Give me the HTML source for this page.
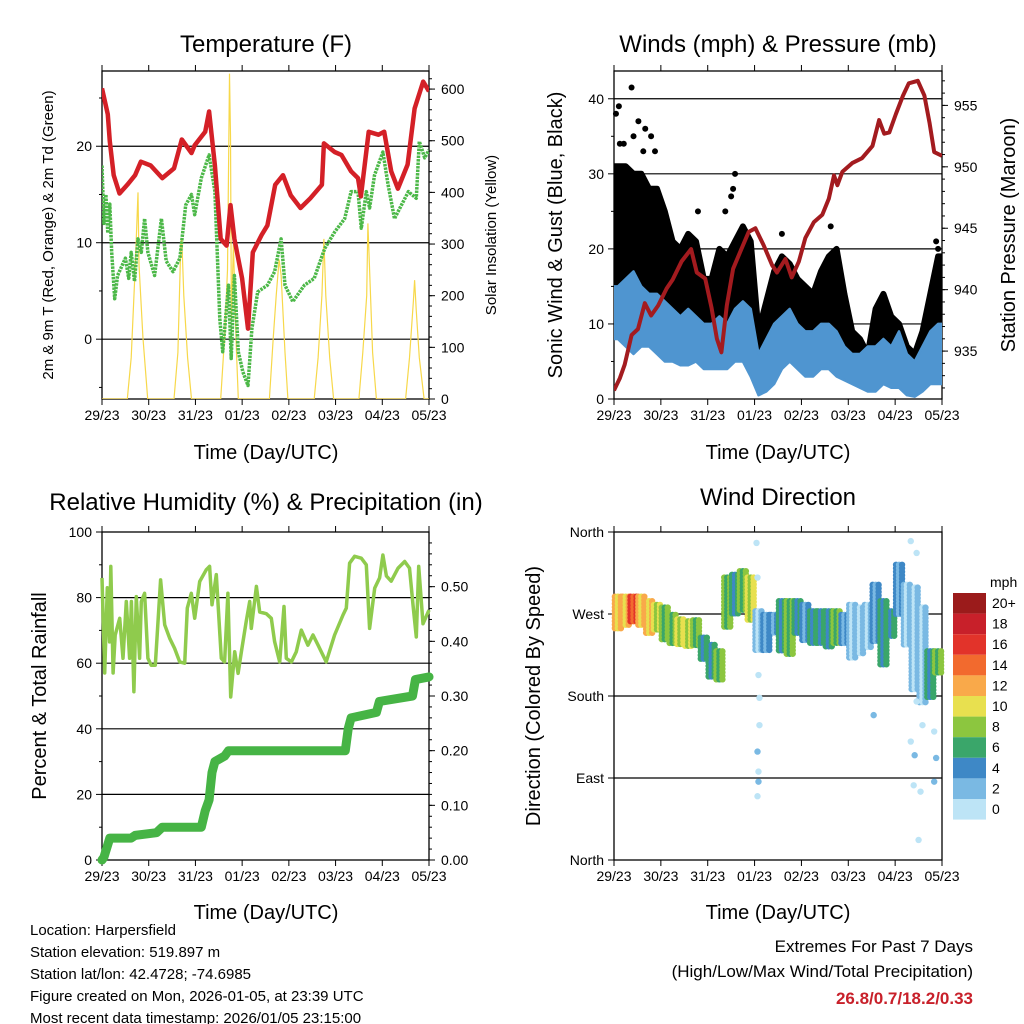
<!DOCTYPE html>
<html><head><meta charset="utf-8"><style>
html,body{margin:0;padding:0;background:#fff;}
svg{display:block;font-family:"Liberation Sans",sans-serif;}
</style></head><body>
<svg id="chart" width="1024" height="1024" viewBox="0 0 1024 1024" xmlns="http://www.w3.org/2000/svg">
<rect width="1024" height="1024" fill="#fff"/>
<g font-size="24" text-anchor="middle" fill="#000">
<text x="266" y="52">Temperature (F)</text>
<text x="778" y="52">Winds (mph) &amp; Pressure (mb)</text>
<text x="266" y="510">Relative Humidity (%) &amp; Precipitation (in)</text>
<text x="778" y="505">Wind Direction</text>
</g>
<g font-size="20" text-anchor="middle">
<text x="266" y="459">Time (Day/UTC)</text>
<text x="778" y="459">Time (Day/UTC)</text>
<text x="266" y="919">Time (Day/UTC)</text>
<text x="778" y="919">Time (Day/UTC)</text>
<text font-size="15" transform="translate(53,235) rotate(-90)">2m &amp; 9m T (Red, Orange) &amp; 2m Td (Green)</text>
<text font-size="15" transform="translate(496,235) rotate(-90)">Solar Insolation (Yellow)</text>
<text transform="translate(562,235) rotate(-90)">Sonic Wind &amp; Gust (Blue, Black)</text>
<text transform="translate(1015,235) rotate(-90)">Station Pressure (Maroon)</text>
<text transform="translate(46,696) rotate(-90)">Percent &amp; Total Rainfall</text>
<text transform="translate(540,696) rotate(-90)">Direction (Colored By Speed)</text>
</g>
<g font-size="15">
<text x="30" y="935">Location: Harpersfield</text>
<text x="30" y="957">Station elevation: 519.897 m</text>
<text x="30" y="979">Station lat/lon: 42.4728; -74.6985</text>
<text x="30" y="1001">Figure created on Mon, 2026-01-05, at 23:39 UTC</text>
<text x="30" y="1023">Most recent data timestamp: 2026/01/05 23:15:00</text>
</g>
<g font-size="17" text-anchor="end">
<text x="973" y="952">Extremes For Past 7 Days</text>
<text x="973" y="977">(High/Low/Max Wind/Total Precipitation)</text>
<text x="973" y="1004" font-weight="bold" fill="#c8202a">26.8/0.7/18.2/0.33</text>
</g>
</svg>
<script>
// ---- shared categories ----
const dayLabels = ["29/23","30/23","31/23","01/23","02/23","03/23","04/23","05/23"];
// ---- temperature ----
const tTimes = [0,3,4,6,9,13,17,20,25,31,37,41,46,47.6,53,55,58,61,64,66,68,72,75,77.5,82,85,89,93,97,102,107,113,114,119.5,123,128,131.5,133,137,142,145,148.6,152,157,160.6,165,168];
const tVals  = [26,23.3,20.5,17,15.1,16,17,18.4,18,16.7,17.7,20.7,19.3,20.1,21.5,23.6,18,10.4,9.7,13.9,10.4,6.3,1.1,9,10.8,11.8,16,17,14.9,13.6,14.6,16,20.3,19.4,19.1,17.4,16.7,14.8,21.5,21.2,21.5,17.4,15.6,18.1,23.9,26.7,25.7];
const tdTimes = [0,1,2,3,4,5,6.5,8,12,13.7,15,16.7,18.5,20.2,21.9,23.6,27,30.5,33,36.5,40,43,46,47.6,51,55,58,60.5,62,65,66.4,68,70,72.4,75,77,80,85,88.7,92,94,98,104,109,114.4,119.5,124.7,128,131.5,133.2,135.8,137.5,140,144.3,147,150.3,157.4,161.5,163,165.8,168];
const tdVals  = [18,12,15,11,14,9,4.2,6.6,8.4,6.3,9,6,10.4,9,12.5,9,6.6,12.5,8.1,7,8.4,13.9,15,12.9,16.7,19.1,15.3,2.1,-1.3,5.6,-2,6.6,-1.3,-3.4,-4.8,1.1,4.9,5.6,7,10.4,5.6,3.9,5.6,6.3,9.4,11.1,12.5,15.3,15.3,11.5,15.3,13.6,17,19.4,16,12.5,15.3,14.6,20.5,18.8,19.6];
const solarTimes = [0,13,15,17,18.5,19,21,23.5,37,39,40.5,41,42,44,46,61,63,64.5,65.5,66,66.5,67.5,69,70,86,88,89.5,91,92,94,95.5,109,111,113,114,115,117,119,132,134,136,136.6,137.5,139,141,156,158,160,160.6,161.5,163,165.5,168];
const solarVals  = [0,0,80,250,400,260,120,0,0,90,300,310,200,80,0,0,120,250,630,510,150,300,100,0,0,120,200,270,240,90,0,0,80,200,310,200,80,0,0,90,200,340,250,90,0,0,80,190,230,170,80,0,0];
// ---- winds ----
const binCenters = [2,6,10,14,18,22,26,30,34,38,42,46,50,54,58,62,66,70,74,78,82,86,90,94,98,102,106,110,114,118,122,126,130,134,138,142,146,150,154,158,162,166];
const windLo = [8,7,6,7,7,6,5,5,4.5,4.5,5,4,4,4,4,5,5,3,0.5,1,2,4,5,4,3,3,4,4,3,2.5,2,1.5,1,1,2,1.5,1.5,0.5,0.3,1,2,2];
const windHi = [15,16,17,15,14,14,13,12,11,12,11,10,10,11,10,12,13,12,6,8,10,11,12,10,9,9,10,10,9,7,6,6,7,7,8,7,9,6,5,7,9,10];
const gustLo = [12,14,13,14,14,12,11,10,9,10,9,7,7,8,8,8,8,7,2,3,5,6,7,6,6,5,6,6,5,4,3,2,2,3,3,3,2,1,1,2,4,5];
const gustHi = [31,31,30,30,28,28,25,21,20,22,21,16,16,20,19,21,23,21,9,13,17,19,18,16,15,14,17,19,20,14,9,8,6,12,14,11,10,7,6,9,14,19];
const gustOutTimes = [1,2.5,3,9,12.5,16,19,43,57,60,62,61,86,111,165,166,5,10,15,21];
const gustOutVals  = [38,39,34,41.5,37,36,35,25,25,27,30,28,22,23,21,20,34,35,33,33];
const presTimes = [0,3,5.5,9,12.3,15.8,19,22.6,27,30,34.6,39.5,42.4,46.7,50,52.7,55,57.8,61,64.7,69,72.4,76.7,81,83.5,87.8,91,94.7,98,102.4,106.7,110,112.7,114.4,117,122,127,132.4,135.8,138.4,141,144.4,148,151,155.6,159,161.6,164,168];
const presVals  = [931.8,932.8,933.9,936.3,936.8,938.9,937.9,938.7,940.1,940.8,942.3,943.3,941.4,940.9,938.5,936,934.9,938.7,941.7,943.1,944.7,945,943.6,942,941.4,942.5,941,942.3,944.2,945.5,946.1,947.4,949.3,948.5,949.6,950.3,950.7,951.7,953.8,952.7,952.8,954.3,955.8,956.8,957,955.8,953.6,951.2,950.9];
// ---- humidity / precip ----
const rhTimes = [0,1.4,2.7,3.9,4.5,5.7,6.8,9.1,10.8,12.5,14.2,15.1,16.4,17.6,19.3,20.2,21.9,23.6,25.3,27.4,30.1,32.2,34.8,37.3,39.9,42.5,43.8,45.9,47.6,50.2,53.6,55.3,56.5,58.7,61.3,63,64.7,66.1,68.2,69.9,71.6,74.1,75.9,76.7,79.3,81,84.4,87,88.7,91.3,93.5,94.7,97.3,99.8,102.4,105.8,108.4,111,115.2,119.5,123.8,125.5,127.2,129.8,133.2,135.8,137.5,140.1,142.6,144.3,146.1,148.6,152.1,155.5,158,159.8,161.5,162.7,164.9,168];
const rhVals  = [86,57,83,66.5,89.5,57,68.6,73.7,61.5,78.8,61.5,78.8,51.3,80.3,61.5,78.8,81.3,61.5,59.4,59.4,85.4,71.7,67.6,64.5,60.4,60,76.8,81.3,73.7,84.9,88.5,89.5,77.8,87,61.5,60.4,81.3,49.7,63.5,56.9,63.5,72.7,78.8,70.6,83.4,75.6,75.1,73.7,66.6,60.4,77.3,61.5,60.4,63.5,70.1,65.5,68.6,65.5,60.4,68.6,74.7,76.8,90.5,92.6,92,90,70.6,82.9,86,93,86.6,85,89,91,89,77.8,68,89.5,72,76.2];
const rainTimes = [0,1,4,15,17,28,31,51,53,55,56.5,58,63,65,125,126.5,128,141,142.5,159.5,161,168];
const rainVals  = [0,0.005,0.04,0.04,0.045,0.05,0.06,0.06,0.09,0.11,0.16,0.18,0.19,0.20,0.20,0.24,0.26,0.27,0.29,0.30,0.33,0.335];
// ---- wind direction ----
const dirLo = [251,258,262,258,247,251,242,236,234,233,233,218,200,196,255,269,273,262,229,229,247,229,225,247,240,236,236,233,236,236,222,225,233,240,214,244,269,236,185,170,178,203];
const dirHi = [289,289,289,289,284,280,277,269,264,262,263,244,236,229,310,313,317,310,273,269,269,284,284,284,280,273,273,273,273,269,280,277,280,302,284,273,324,302,299,277,229,229];
const dirSpd = [12,13,16,13,12,10,8,8,10,11,9,7,6,9,8,7,9,10,3,4,5,7,8,6,5,6,6,7,9,5,3,2,3,4,6,6,4,3,2,3,7,9];
const dirOutTimes = [73,73.5,74,74.5,74.5,73.5,74,73.5,74,133,152,155,152,154,153.5,157,156,165,164,164,158,155];
const dirOutVals  = [348,310,203,178,148,119,97,70,86,159,350,337,130,115,82,75,22,112,86,141,148,174];
const dirOutSpd   = [1,1,1,1,1,3,1,1,3,2,1,1,1,3,1,1,1,3,3,1,1,1];
const cbLabels = ["20+","18","16","14","12","10","8","6","4","2","0"];
const cbColors = ["#9b1b1b","#c8202a","#e2332a","#f26a2e","#f9a94a","#e8e04f","#8cc63f","#3aa66a","#3e88c6","#7ab9e3","#bde4f6"];

const NS="http://www.w3.org/2000/svg";
const svg=document.getElementById('chart');
function mk(tag,attrs,parent){const e=document.createElementNS(NS,tag);for(const k in attrs)e.setAttribute(k,attrs[k]);(parent||svg).appendChild(e);return e;}
function lin(d0,d1,r0,r1){return v=>r0+(v-d0)*(r1-r0)/(d1-d0);}

const P1={x0:102,x1:429,y0:71,y1:399}, P2={x0:614,x1:942,y0:71,y1:399}, P3={x0:102,x1:429,y0:532,y1:860}, P4={x0:614,x1:942,y0:532,y1:860};
function xs(P){return lin(0,168,P.x0,P.x1);}
function pathOf(ts,vs,fx,fy){return ts.map((t,i)=>(i?'L':'M')+fx(t).toFixed(1)+','+fy(vs[i]).toFixed(1)).join('');}
function clip(P,id){const cp=mk('clipPath',{id:id});mk('rect',{x:P.x0,y:P.y0,width:P.x1-P.x0,height:P.y1-P.y0},cp);return 'url(#'+id+')';}

function frame(P,name,leftTicks,leftFmt,leftMinor,fyL,grid,rightTicks,rightFmt,rightMinor,fyR){
  const g=mk('g',{});
  
  
  const fx=xs(P);
  grid.forEach(v=>{const l=mk('line',{x1:P.x0,x2:P.x1,y1:fyL(v),y2:fyL(v),stroke:'#000','stroke-width':1.2},g);
    
    });
  dayLabels.forEach((d,i)=>{const x=fx(i*24);
    mk('line',{x1:x,x2:x,y1:P.y1,y2:P.y1+6,stroke:'#000'},g);
    mk('line',{x1:x,x2:x,y1:P.y0,y2:P.y0-6,stroke:'#000'},g);
    const t=mk('text',{x:x,y:P.y1+21,'font-size':14,'text-anchor':'middle'},g);t.textContent=d;
    
    });
  leftMinor.forEach(v=>mk('line',{x1:P.x0-3,x2:P.x0,y1:fyL(v),y2:fyL(v),stroke:'#000'},g));
  leftTicks.forEach(v=>{mk('line',{x1:P.x0-6,x2:P.x0,y1:fyL(v),y2:fyL(v),stroke:'#000'},g);
    const t=mk('text',{x:P.x0-10,y:fyL(v)+5,'font-size':14,'text-anchor':'end'},g);t.textContent=leftFmt(v);
    
    });
  if(rightTicks){
    rightMinor.forEach(v=>mk('line',{x1:P.x1,x2:P.x1+3,y1:fyR(v),y2:fyR(v),stroke:'#000'},g));
    rightTicks.forEach(v=>{mk('line',{x1:P.x1,x2:P.x1+6,y1:fyR(v),y2:fyR(v),stroke:'#000'},g);
      const t=mk('text',{x:P.x1+12,y:fyR(v)+5,'font-size':14},g);t.textContent=rightFmt(v);
      
      });
  }
  const r=mk('rect',{x:P.x0,y:P.y0,width:P.x1-P.x0,height:P.y1-P.y0,fill:'none',stroke:'#000','stroke-width':1.3},g);
  
  
}
function range(a,b,s){const o=[];for(let v=a;v<=b+1e-9;v+=s)o.push(+v.toFixed(4));return o;}

// ===== Panel 1 =====
{const fx=xs(P1), fy=lin(-6.2,27.8,P1.y1,P1.y0), fyR=lin(0,635,P1.y1,P1.y0);
 frame(P1,'temperature',[0,10,20],v=>String(v),[-5,5,15,25],fy,[0,10,20],range(0,600,100),v=>String(v),range(0,620,20),fyR);
 const cp=clip(P1,'c1');
 const s=mk('path',{d:pathOf(solarTimes,solarVals,fx,fyR),fill:'none',stroke:'#f7d84a','stroke-width':1.2,'clip-path':cp});
 
 
 const td=mk('path',{d:pathOf(tdTimes,tdVals,fx,fy),fill:'none',stroke:'#4cb848','stroke-width':3.5,'stroke-dasharray':'2.5 1','stroke-linejoin':'round','clip-path':cp});
 
 
 const t=mk('path',{d:pathOf(tTimes,tVals,fx,fy),fill:'none',stroke:'#d42027','stroke-width':4.5,'stroke-linejoin':'round','clip-path':cp});
 
 
}
// ===== Panel 2 =====
{const fx=xs(P2), fy=lin(0,43.7,P2.y1,P2.y0), fyR=lin(931.1,957.8,P2.y1,P2.y0);
 frame(P2,'winds',[0,10,20,30,40],v=>String(v),[5,15,25,35],fy,[10,20,30,40],[935,940,945,950,955],v=>String(v),range(932,957,1),fyR);
 const cp=clip(P2,'c2');
 function band(lo,hi,color,w,name){
   const ts=[0].concat(binCenters,[168]);
   const L=[lo[0]].concat(lo,[lo[lo.length-1]]), H=[hi[0]].concat(hi,[hi[hi.length-1]]);
   let d=ts.map((t,i)=>(i?'L':'M')+fx(t).toFixed(1)+','+fy(H[i]).toFixed(1)).join('');
   for(let i=ts.length-1;i>=0;i--)d+='L'+fx(ts[i]).toFixed(1)+','+fy(L[i]).toFixed(1);
   const p=mk('path',{d:d+'Z',fill:color,stroke:color,'stroke-width':w,'stroke-linejoin':'round','clip-path':cp});
   
   
 }
 band(gustLo,gustHi,'#000',6,'gust-scatter-band');
 gustOutTimes.forEach((t,i)=>{const c=mk('circle',{cx:fx(t),cy:fy(gustOutVals[i]),r:3,fill:'#000'});
   
   });
 band(windLo,windHi,'#4f95d0',2.5,'sustained-wind-band');
 const p=mk('path',{d:pathOf(presTimes,presVals,fx,fyR),fill:'none',stroke:'#a31b1f','stroke-width':4,'stroke-linejoin':'round','clip-path':cp});
 
 
}
// ===== Panel 3 =====
{const fx=xs(P3), fy=lin(0,100,P3.y1,P3.y0), fyR=lin(0,0.6,P3.y1,P3.y0);
 frame(P3,'humidity',[0,20,40,60,80,100],v=>String(v),[10,30,50,70,90],fy,[20,40,60,80],range(0,0.5,0.1),v=>v.toFixed(2),range(0,0.58,0.02),fyR);
 const rh=mk('path',{d:pathOf(rhTimes,rhVals,fx,fy),fill:'none',stroke:'#8fcb4d','stroke-width':3.5,'stroke-linejoin':'round'});
 
 
 const rn=mk('path',{d:pathOf(rainTimes,rainVals,fx,fyR),fill:'none',stroke:'#46b445','stroke-width':9,'stroke-linejoin':'round','stroke-linecap':'round'});
 
 
}
// ===== Panel 4 =====
{const fx=xs(P4), fy=lin(0,360,P4.y1,P4.y0);
 const names={0:'North',90:'East',180:'South',270:'West',360:'North'};
 frame(P4,'wind-direction',[0,90,180,270,360],v=>names[v],[],fy,[90,180,270],null);
 function colorFor(s){let i=10-Math.min(10,Math.floor(s/2));return cbColors[i];}
 const g=mk('g',{});
 
 
 binCenters.forEach((t,i)=>{
   const yA=fy(dirHi[i]), yB=fy(dirLo[i]);
   [-3,0,3].forEach((dx,k)=>{
     const s=(k===1)?Math.max(0,dirSpd[i]-2):dirSpd[i];
     for(let y=yA;y<=yB;y+=3.5){
       const c=mk('circle',{cx:fx(t)+dx,cy:y,r:3.2,fill:colorFor(s)},g);
       
       
     }
   });
 });
 dirOutTimes.forEach((t,i)=>{const c=mk('circle',{cx:fx(t),cy:fy(dirOutVals[i]),r:3.2,fill:colorFor(dirOutSpd[i])},g);
   
   });
 // colorbar
 const cb=mk('g',{});
 
 
 const u=mk('text',{x:990,y:587,'font-size':14},cb);u.textContent='mph';
 cbColors.forEach((c,i)=>{const y=593+i*20.6;
   const r=mk('rect',{x:953,y:y,width:33,height:20.6,fill:c},cb);
   
   
   const t=mk('text',{x:992,y:y+15,'font-size':14},cb);t.textContent=cbLabels[i];
   
   });
}
</script>
</body></html>
